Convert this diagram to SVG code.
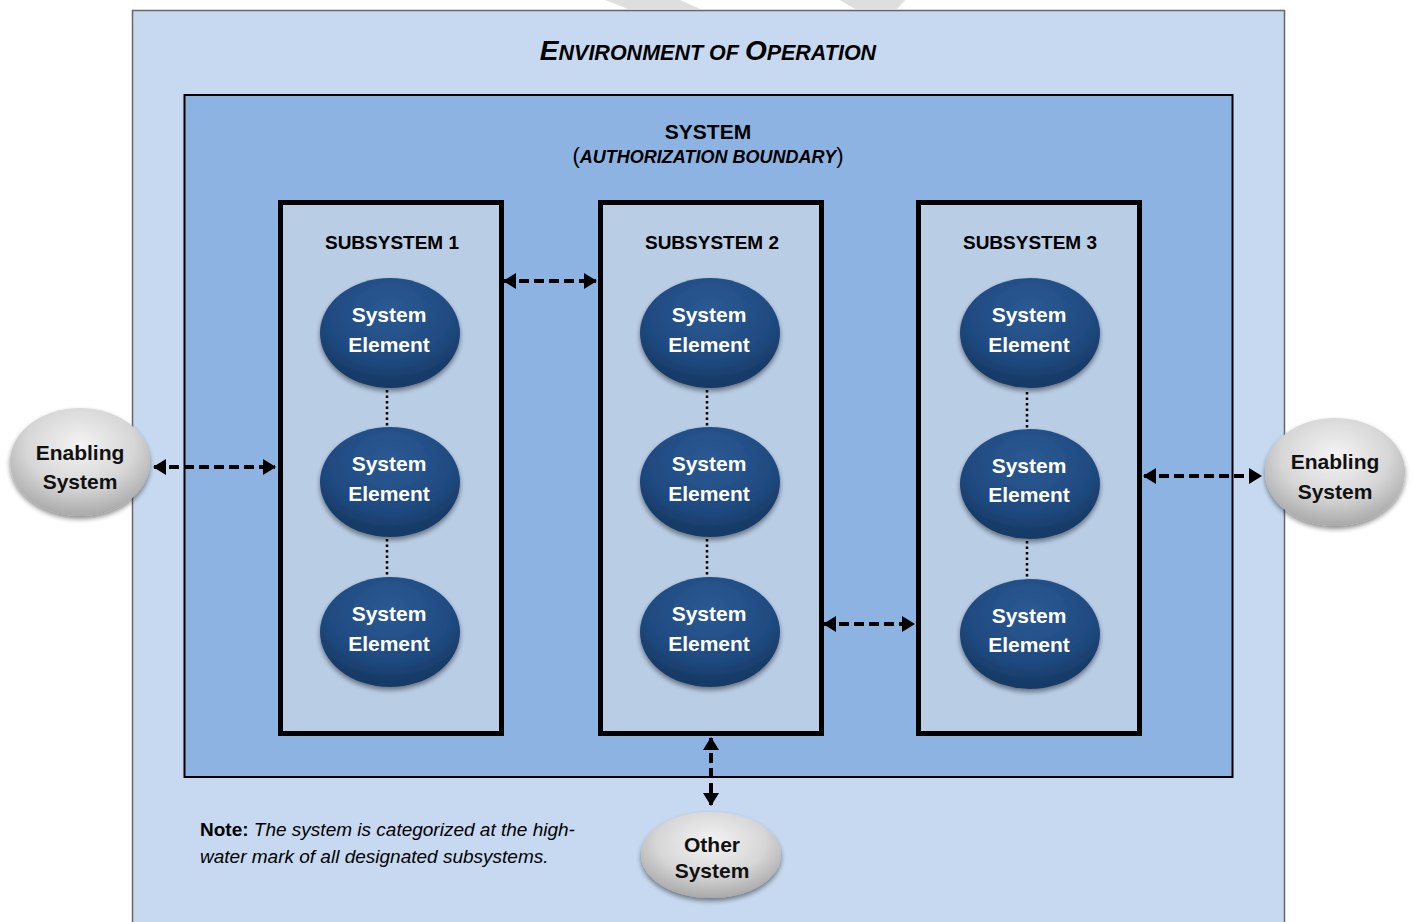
<svg xmlns="http://www.w3.org/2000/svg" width="1413" height="922" viewBox="0 0 1413 922">
<defs>
<style>
.t{font-family:"Liberation Sans",Arial,sans-serif;font-weight:bold;fill:#000}
.w{font-family:"Liberation Sans",Arial,sans-serif;font-weight:bold;fill:#fff;font-size:21px;text-anchor:middle}
.g{font-family:"Liberation Sans",Arial,sans-serif;font-weight:bold;fill:#111;font-size:21px;text-anchor:middle}
.sub{fill:#b9cde5;stroke:#000;stroke-width:5}
.el{fill:url(#blue);filter:url(#sh)}
.gr{fill:url(#gray);filter:url(#sh)}
.dot{stroke:#000;stroke-width:2.5;stroke-dasharray:2.5 3;fill:none}
.arr{stroke:#000;stroke-width:4;stroke-dasharray:10 5;fill:none;marker-start:url(#ah);marker-end:url(#ah)}
</style>
<radialGradient id="blue" cx="0.5" cy="0.3" r="0.65">
<stop offset="0" stop-color="#2c5a94"/>
<stop offset="0.7" stop-color="#1f4a80"/>
<stop offset="1" stop-color="#173a66"/>
</radialGradient>
<radialGradient id="gray" cx="0.5" cy="0.35" r="0.65">
<stop offset="0" stop-color="#f4f4f4"/>
<stop offset="0.6" stop-color="#d6d6d6"/>
<stop offset="1" stop-color="#a9a9a9"/>
</radialGradient>
<filter id="sh" x="-20%" y="-20%" width="140%" height="150%">
<feGaussianBlur in="SourceAlpha" stdDeviation="2.5"/>
<feOffset dx="0" dy="3" result="b"/>
<feComponentTransfer><feFuncA type="linear" slope="0.45"/></feComponentTransfer>
<feMerge><feMergeNode/><feMergeNode in="SourceGraphic"/></feMerge>
</filter>
<marker id="ah" viewBox="0 0 13 16" refX="12" refY="8" markerWidth="13" markerHeight="16" orient="auto-start-reverse" markerUnits="userSpaceOnUse">
<path d="M0,0 L13,8 L0,16 z" fill="#000"/>
</marker>
</defs>
<rect width="1413" height="922" fill="#fff"/>
<g id="watermark" fill="#dedede">
<polygon points="605,0 680,0 700,9 628,9"/>
<polygon points="840,0 905,0 897,9 855,9"/>
</g>
<g id="environment">
<rect x="132.5" y="10.5" width="1152" height="920" fill="#c6d9f0" stroke="#666" stroke-width="1.5"/>
<text class="t" x="708" y="60" text-anchor="middle" font-style="italic" font-size="28">E<tspan font-size="21.5">NVIRONMENT OF </tspan>O<tspan font-size="21.5">PERATION</tspan></text>
</g>
<g id="system">
<rect x="184.5" y="95" width="1048" height="682" fill="#8db3e2" stroke="#000" stroke-width="2"/>
<text class="t" x="708" y="139" text-anchor="middle" font-size="21">SYSTEM</text>
<text class="t" x="708" y="163" text-anchor="middle" font-size="18"><tspan font-weight="normal" font-size="22">(</tspan><tspan font-style="italic">AUTHORIZATION BOUNDARY</tspan><tspan font-weight="normal" font-size="22">)</tspan></text>
</g>
<g id="subsystem1">
<rect class="sub" x="280.5" y="202.5" width="221" height="531"/>
<text class="t" x="392" y="249" text-anchor="middle" font-size="19">SUBSYSTEM 1</text>
</g>
<g id="subsystem2">
<rect class="sub" x="600.5" y="202.5" width="221" height="531"/>
<text class="t" x="712" y="249" text-anchor="middle" font-size="19">SUBSYSTEM 2</text>
</g>
<g id="subsystem3">
<rect class="sub" x="918.5" y="202.5" width="221" height="531"/>
<text class="t" x="1030" y="249" text-anchor="middle" font-size="19">SUBSYSTEM 3</text>
</g>
<g id="connectors">
<line class="dot" x1="387" y1="390" x2="387" y2="428"/>
<line class="dot" x1="387" y1="539" x2="387" y2="578"/>
<line class="dot" x1="707" y1="390" x2="707" y2="428"/>
<line class="dot" x1="707" y1="539" x2="707" y2="578"/>
<line class="dot" x1="1027" y1="392" x2="1027" y2="430"/>
<line class="dot" x1="1027" y1="541" x2="1027" y2="580"/>
<line class="arr" x1="154" y1="467" x2="275" y2="467"/>
<line class="arr" x1="504" y1="281" x2="596" y2="281"/>
<line class="arr" x1="824" y1="624" x2="914" y2="624"/>
<line class="arr" x1="1144" y1="476" x2="1261" y2="476"/>
<line class="arr" x1="711" y1="738" x2="711" y2="805"/>
</g>
<g id="s1e1"><ellipse class="el" cx="390" cy="333" rx="70" ry="55"/><text class="w" x="389" y="322">System</text><text class="w" x="389" y="352">Element</text></g>
<g id="s1e2"><ellipse class="el" cx="390" cy="482" rx="70" ry="55"/><text class="w" x="389" y="471">System</text><text class="w" x="389" y="501">Element</text></g>
<g id="s1e3"><ellipse class="el" cx="390" cy="632" rx="70" ry="55"/><text class="w" x="389" y="621">System</text><text class="w" x="389" y="651">Element</text></g>
<g id="s2e1"><ellipse class="el" cx="710" cy="333" rx="70" ry="55"/><text class="w" x="709" y="322">System</text><text class="w" x="709" y="352">Element</text></g>
<g id="s2e2"><ellipse class="el" cx="710" cy="482" rx="70" ry="55"/><text class="w" x="709" y="471">System</text><text class="w" x="709" y="501">Element</text></g>
<g id="s2e3"><ellipse class="el" cx="710" cy="632" rx="70" ry="55"/><text class="w" x="709" y="621">System</text><text class="w" x="709" y="651">Element</text></g>
<g id="s3e1"><ellipse class="el" cx="1030" cy="333" rx="70" ry="55"/><text class="w" x="1029" y="322">System</text><text class="w" x="1029" y="352">Element</text></g>
<g id="s3e2"><ellipse class="el" cx="1030" cy="484" rx="70" ry="55"/><text class="w" x="1029" y="473">System</text><text class="w" x="1029" y="502">Element</text></g>
<g id="s3e3"><ellipse class="el" cx="1030" cy="634" rx="70" ry="55"/><text class="w" x="1029" y="623">System</text><text class="w" x="1029" y="652">Element</text></g>
<g id="enabling-left"><ellipse class="gr" cx="80" cy="462" rx="70" ry="54"/><text class="g" x="80" y="460">Enabling</text><text class="g" x="80" y="489">System</text></g>
<g id="enabling-right"><ellipse class="gr" cx="1335" cy="472" rx="70" ry="54"/><text class="g" x="1335" y="469">Enabling</text><text class="g" x="1335" y="499">System</text></g>
<g id="other-system"><ellipse class="gr" cx="711" cy="855" rx="70" ry="43"/><text class="g" x="712" y="852">Other</text><text class="g" x="712" y="878">System</text></g>
<g id="note">
<text font-family="Liberation Sans,Arial,sans-serif" font-size="19" x="200" y="836" fill="#000"><tspan font-weight="bold">Note:</tspan><tspan font-style="italic"> The system is categorized at the high-</tspan></text>
<text font-family="Liberation Sans,Arial,sans-serif" font-size="19" x="200" y="863" fill="#000" font-style="italic">water mark of all designated subsystems.</text>
</g>
</svg>
